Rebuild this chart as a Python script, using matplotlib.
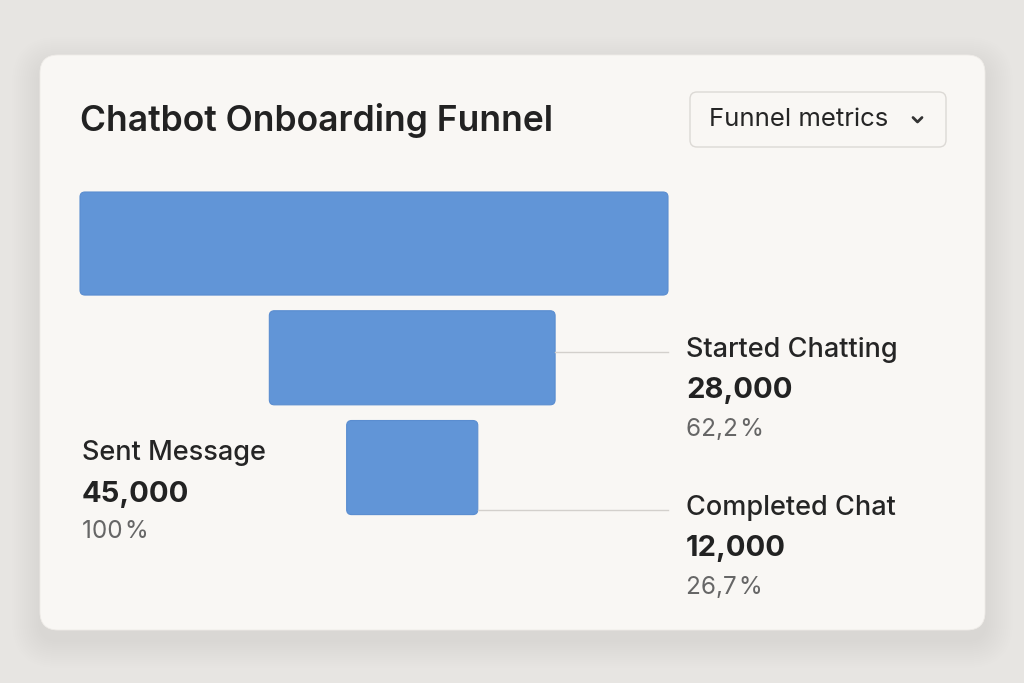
import matplotlib.pyplot as plt
from matplotlib.patches import FancyBboxPatch

# funnel data
stages = ['Sent Message', 'Started Chatting', 'Completed Chat']
users = [45000, 28000, 12000]
# drawn bar length, % of the first bar (as shown in the chart)
bar_width_pct = [100, 48.6, 22.3]

plt.rcParams['font.family'] = ['Inter', 'DejaVu Sans']

W, H = 1024, 683
fig = plt.figure(figsize=(W / 100, H / 100), dpi=100)
fig.patch.set_facecolor('#e7e5e2')

# background axes in pixel units
bg = fig.add_axes([0, 0, 1, 1])
bg.set_xlim(0, W)
bg.set_ylim(H, 0)
bg.axis('off')

# card with soft shadow
for s in range(2, 30, 2):
    bg.add_patch(FancyBboxPatch((40 - s, 55 - s + 10), 945 + 2 * s, 575 + 2 * s,
                                boxstyle=f'round,pad=0,rounding_size={18 + s}',
                                fc='black', ec='none', alpha=0.005))
bg.add_patch(FancyBboxPatch((40, 55), 945, 575, boxstyle='round,pad=0,rounding_size=18',
                            fc='#f9f7f4', ec='#efece8', lw=0.6))

# title + dropdown
bg.text(80, 121, 'Chatbot Onboarding Funnel', fontsize=25.5, fontweight='semibold',
        color='#222222', va='center', ha='left')
bg.add_patch(FancyBboxPatch((690, 92), 256, 55, boxstyle='round,pad=0,rounding_size=7',
                            fc='#f9f7f4', ec='#dcd9d5', lw=1))
bg.text(709, 120, 'Funnel metrics', fontsize=18.5, color='#252525', va='center', ha='left')
bg.plot([913, 917.5, 922], [117.5, 122, 117.5], color='#333333', lw=2,
        solid_capstyle='round', solid_joinstyle='round')

# funnel axes
ax = fig.add_axes([80 / W, 1 - 514.6 / H, 588 / W, 322.6 / H])
ax.set_xlim(0, 100)
ax.set_ylim(2.42, -0.46)
ax.axis('off')

ypos = [0, 1.02, 2]
heights = [0.92, 0.84, 0.84]
centers = [50, 56.5, 56.5]
lefts = [c - w / 2 for c, w in zip(centers, bar_width_pct)]
bars = ax.barh(ypos, bar_width_pct, left=lefts, height=heights)

# swap plain bars for rounded ones
asp = (1 / 112) / (100 / 588)
for p in bars.patches:
    x, y = p.get_x(), p.get_y()
    w, h = p.get_width(), p.get_height()
    p.remove()
    ax.add_patch(FancyBboxPatch((x, y), w, h,
                                boxstyle=f'round,pad=0,rounding_size={5 * 100 / 588}',
                                mutation_aspect=asp, fc='#6195d7', ec='#5a8dd0', lw=0.8,
                                clip_on=False))

# leader lines to the right-hand labels
leader_dy = [None, -0.05, 0.38]
for i in range(1, len(stages)):
    yl = ypos[i] + leader_dy[i]
    ax.plot([lefts[i] + bar_width_pct[i], 100], [yl, yl], color='#d3d0cc', lw=1,
            clip_on=False)

# labels
pct = [u / users[0] * 100 for u in users]
pct_txt = ['100\u200a%'] + [f'{p:.1f}'.replace('.', ',') + '\u200a%' for p in pct[1:]]
label_pos = [(82, 453), (686, 350), (686, 508)]
for i, (lx, ly) in enumerate(label_pos):
    bg.text(lx, ly, stages[i], fontsize=19.5, fontweight='medium', color='#252525',
            va='center', ha='left')
    bg.text(lx, ly + 41, f'{users[i]:,}', fontsize=21, fontweight='bold',
            color='#222222', va='center', ha='left')
    bg.text(lx, ly + 79, pct_txt[i], fontsize=17.5, color='#666666', va='center', ha='left')

fig.savefig('out.png', dpi=100, facecolor=fig.get_facecolor())
